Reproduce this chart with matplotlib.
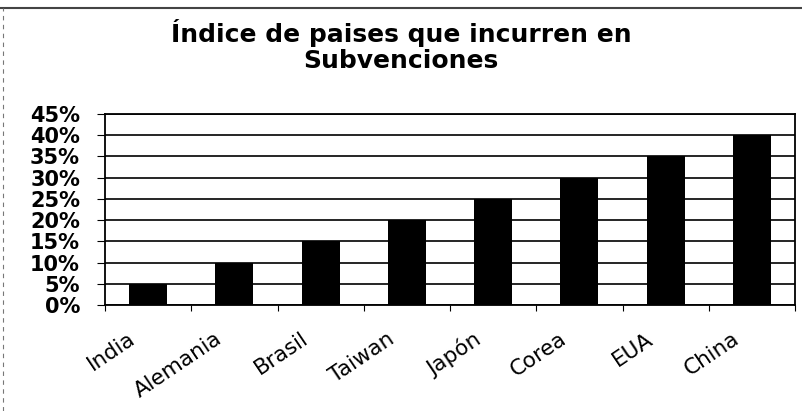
import matplotlib
matplotlib.use("Agg")
import matplotlib.pyplot as plt
from matplotlib.ticker import PercentFormatter, MultipleLocator, FixedLocator
from matplotlib.lines import Line2D

categories = ["India", "Alemania", "Brasil", "Taiwan", "Japón", "Corea", "EUA", "China"]
values = [0.05, 0.10, 0.15, 0.20, 0.25, 0.30, 0.35, 0.40]

plt.rcParams['font.family'] = ['DejaVu Sans']

fig = plt.figure(figsize=(8.02, 4.11), dpi=100)
ax = fig.add_axes([105/802, 1 - 305/411, (795-105)/802, (305-114)/411])

x = list(range(len(categories)))
ax.bar(x, values, width=0.44, color="black", zorder=3)
ax.set_xlim(-0.5, len(categories) - 0.5)
ax.set_ylim(0, 0.45)
ax.yaxis.set_major_locator(MultipleLocator(0.05))
ax.yaxis.set_major_formatter(PercentFormatter(1.0, decimals=0))
ax.grid(axis="y", color="black", linewidth=1.2, zorder=0)
ax.set_xticks(x)
ax.set_xticklabels([])
ax.xaxis.set_minor_locator(FixedLocator([i + 0.5 for i in range(-1, len(categories))]))
# category labels, placed below each category and rotated like the original
for i, cat in zip(x, categories):
    ax.annotate(cat, xy=(i, 0), xycoords=("data", "axes fraction"),
                xytext=(-14.5, -17), textcoords="offset points",
                rotation=34, ha="right", va="top", rotation_mode="anchor",
                fontsize=15.5)
for lbl in ax.get_yticklabels():
    lbl.set_fontsize(15)
    lbl.set_fontweight("bold")
ax.tick_params(axis="x", which="major", length=0)
ax.tick_params(axis="x", which="minor", length=4, width=0.8)
ax.tick_params(axis="y", length=6, width=0.8, pad=12)
for s in ax.spines.values():
    s.set_linewidth(1.3)
    s.set_color("black")

fig.text(0.5, 1 - 46/411, "Índice de paises que incurren en\nSubvenciones",
         ha="center", va="center", fontsize=18, fontweight="bold", linespacing=1.1)

# figure frame (top and left edges only, as in the scan)
fig.add_artist(Line2D([0, 1], [1 - 8/411, 1 - 8/411], transform=fig.transFigure,
                      color="#444444", linewidth=1.5))
fig.add_artist(Line2D([3/802, 3/802], [0, 1 - 8/411], transform=fig.transFigure,
                      color="#777777", linewidth=0.8, linestyle=(0, (4, 4))))

fig.savefig("out.png", dpi=100)
